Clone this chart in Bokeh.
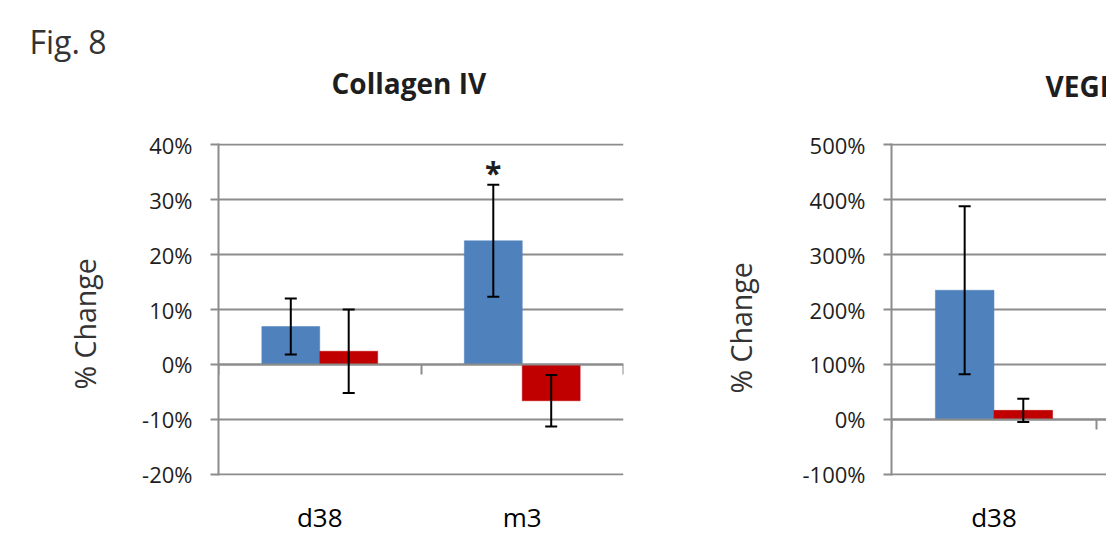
from bokeh.plotting import figure
from bokeh.models import (ColumnDataSource, Range1d, FixedTicker, LinearAxis,
                          NumeralTickFormatter, Whisker, TeeHead, Title)
from bokeh.layouts import row
from bokeh.embed import file_html
from bokeh.resources import INLINE
from bokeh.core.properties import value

# ---------------- data ----------------
categories = ["d38", "m3"]

col_blue = [0.069, 0.225]
col_blue_err = [0.051, 0.102]
col_red = [0.024, -0.066]
col_red_err = [0.076, 0.047]
col_sig = ["", "*"]
col_ticks = [-0.2, -0.1, 0.0, 0.1, 0.2, 0.3, 0.4]

vegf_categories = ["d38"]
vegf_blue = [2.35]
vegf_blue_err = [1.53]
vegf_red = [0.165]
vegf_red_err = [0.21]
vegf_sig = [""]
vegf_ticks = [-1, 0, 1, 2, 3, 4, 5]

y_label = "% Change"

# ---------------- style ----------------
FONT = "Open Sans"
BLUE = "#4F81BD"
RED = "#C00000"
GREY = "#8c8c8c"
TXT = "#1e1e1e"
H = 537
BAR_W = 0.286
OFF = 0.143


def make_panel(cats, blue, blue_err, red, red_err, sig, ticks, yr, xr,
               width, border_l, border_r, border_t, border_b,
               title, title_offset, title_standoff, ylab_standoff, ylab_offset,
               cat_standoff, fig_label=None):
    p = figure(width=width, height=H, output_backend="svg", toolbar_location=None,
               x_range=Range1d(*xr), y_range=Range1d(*yr),
               x_axis_location=None, y_axis_location="left",
               min_border_left=border_l, min_border_right=border_r,
               min_border_top=border_t, min_border_bottom=border_b)
    p.outline_line_color = None
    p.background_fill_color = "white"
    p.border_fill_color = "white"
    p.xgrid.visible = False
    p.ygrid.ticker = FixedTicker(ticks=ticks)
    p.ygrid.grid_line_color = GREY
    p.ygrid.grid_line_width = 2

    ya = p.yaxis[0]
    ya.ticker = FixedTicker(ticks=ticks)
    ya.formatter = NumeralTickFormatter(format="0%")
    ya.axis_line_color = GREY
    ya.axis_line_width = 2
    ya.major_tick_line_color = GREY
    ya.major_tick_line_width = 2
    ya.major_tick_out = 8
    ya.major_tick_in = 0
    ya.minor_tick_line_color = None
    ya.major_label_standoff = 18
    ya.major_label_text_font = FONT
    ya.major_label_text_font_size = "22px"
    ya.major_label_text_color = TXT

    n = len(cats)
    centers = [i + 0.5 for i in range(n)]
    src = ColumnDataSource(dict(
        xb=[c - OFF for c in centers], xr=[c + OFF for c in centers],
        blue=blue, red=red,
        bu=[v + e for v, e in zip(blue, blue_err)],
        bl=[v - e for v, e in zip(blue, blue_err)],
        ru=[v + e for v, e in zip(red, red_err)],
        rl=[v - e for v, e in zip(red, red_err)],
        sig=sig,
    ))
    p.vbar(x="xb", top="blue", bottom=0, width=BAR_W, source=src,
           fill_color=BLUE, line_color=BLUE, line_width=0.5)
    p.vbar(x="xr", top="red", bottom=0, width=BAR_W, source=src,
           fill_color=RED, line_color=RED, line_width=0.5)

    for base, up, lo in (("xb", "bu", "bl"), ("xr", "ru", "rl")):
        w = Whisker(base=base, upper=up, lower=lo, source=src, dimension="height",
                    level="annotation",
                    line_color="black", line_width=2,
                    upper_head=TeeHead(size=12, line_color="black", line_width=2),
                    lower_head=TeeHead(size=12, line_color="black", line_width=2))
        p.add_layout(w)

    p.text(x="xb", y="bu", text="sig", source=src, text_font=value(FONT),
           text_font_style="bold", text_font_size="30px", text_align="center",
           text_baseline="middle", text_color=TXT, y_offset=-12)

    # category axis crossing at 0 with boundary ticks
    bounds = list(range(n + 2))
    zero_axis = LinearAxis(fixed_location=0, ticker=FixedTicker(ticks=bounds),
                           major_label_overrides={b: "" for b in bounds})
    zero_axis.axis_line_color = GREY
    zero_axis.axis_line_width = 2
    zero_axis.major_tick_line_color = GREY
    zero_axis.major_tick_line_width = 2
    zero_axis.major_tick_out = 10
    zero_axis.major_tick_in = 0
    zero_axis.minor_tick_line_color = None
    zero_axis.major_label_text_font_size = "0px"
    zero_axis.major_label_standoff = 0
    zero_axis.major_label_text_color = None
    p.add_layout(zero_axis, "below")

    # category labels at the bottom
    lab_axis = LinearAxis(ticker=FixedTicker(ticks=centers),
                          major_label_overrides={c: s for c, s in zip(centers, cats)})
    lab_axis.axis_line_color = None
    lab_axis.major_tick_line_color = None
    lab_axis.minor_tick_line_color = None
    lab_axis.major_tick_out = 0
    lab_axis.major_tick_in = 0
    lab_axis.major_label_standoff = cat_standoff
    lab_axis.major_label_text_font = FONT
    lab_axis.major_label_text_font_size = "26px"
    lab_axis.major_label_text_color = "black"
    p.add_layout(lab_axis, "below")

    # y-axis label, placed as a side title so it can sit where the original does
    p.add_layout(Title(text=y_label, align="left", offset=ylab_offset,
                       standoff=ylab_standoff, text_font=FONT,
                       text_font_style="normal", text_font_size="28.5px",
                       text_color="#333333"), "left")

    p.add_layout(Title(text=title, align="left", offset=title_offset,
                       standoff=title_standoff, text_font=FONT,
                       text_font_style="bold", text_font_size="28px",
                       text_color=TXT), "above")
    if fig_label:
        p.add_layout(Title(text=fig_label, align="left", offset=-189, standoff=-86,
                           text_font=FONT, text_font_style="normal",
                           text_font_size="32px", text_color="#333333"), "above")
    return p


p1 = make_panel(categories, col_blue, col_blue_err, col_red, col_red_err, col_sig,
                col_ticks, (-0.202, 0.402), (0, 2),
                width=680, border_l=218, border_r=57, border_t=143, border_b=59,
                title="Collagen IV", title_offset=113, title_standoff=84,
                ylab_standoff=71, ylab_offset=86, cat_standoff=23,
                fig_label="Fig. 8")

p2 = make_panel(vegf_categories, vegf_blue, vegf_blue_err, vegf_red, vegf_red_err,
                vegf_sig, vegf_ticks, (-1.02, 5.02), (0, 1.049),
                width=426, border_l=211, border_r=0, border_t=140, border_b=61,
                title="VEGF", title_offset=154, title_standoff=78,
                ylab_standoff=79, ylab_offset=82, cat_standoff=23)

layout = row(p1, p2)
open("out.html", "w").write(file_html(layout, INLINE))
